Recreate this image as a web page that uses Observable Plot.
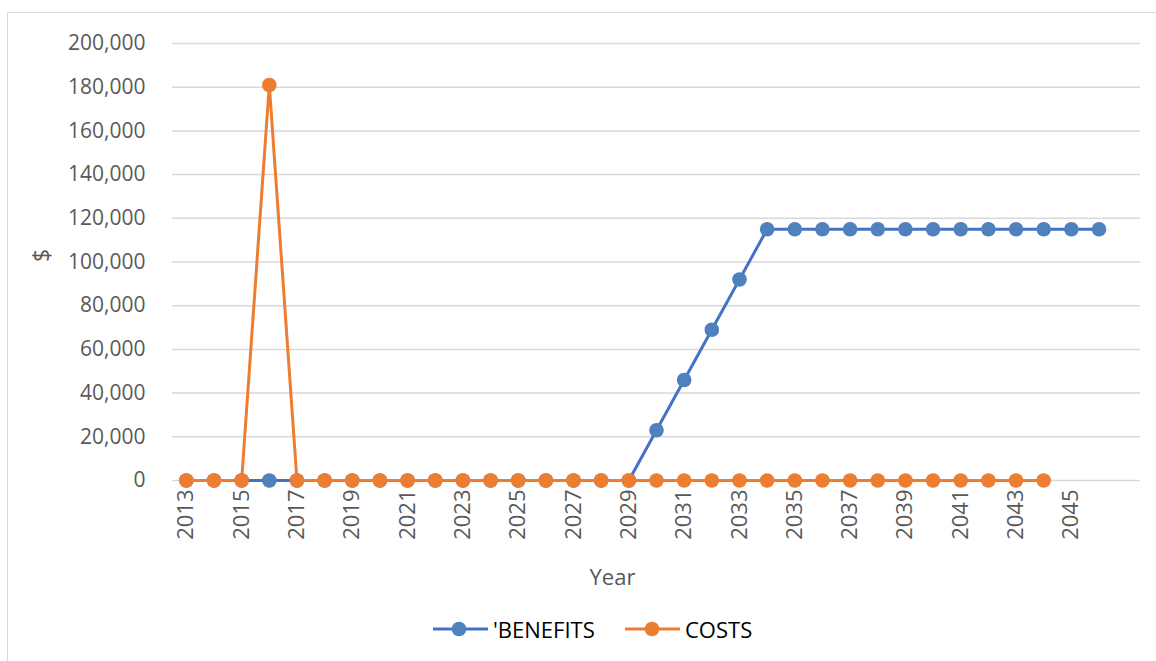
<!DOCTYPE html>
<html><head><meta charset="utf-8">
<script src="https://cdn.jsdelivr.net/npm/d3@7"></script>
<script src="https://cdn.jsdelivr.net/npm/@observablehq/plot@0.6"></script>
<style>
body{margin:0;background:#fff;}
#wrap{position:relative;width:1156px;height:661px;overflow:hidden;font-family:"Open Sans",sans-serif;background:#fff;}
#frame{position:absolute;left:7px;top:12px;width:1170px;height:670px;border-left:1.5px solid #d9d9d9;border-top:1.5px solid #d9d9d9;}
#chart{position:absolute;left:0;top:0;}
.leg{position:absolute;top:614px;height:30px;display:flex;align-items:center;font-size:22px;color:#000;white-space:nowrap;}
.leg svg{margin-right:5px;}
</style>
</head><body>
<div id="wrap"><div id="frame"></div><div id="chart"></div>
<div class="leg" style="left:433px"><svg width="55" height="18"><line x1="0" y1="9" x2="55" y2="9" stroke="#4472C4" stroke-width="3"/><circle cx="26" cy="9" r="7.3" fill="#4F81BD"/></svg><span>'BENEFITS</span></div>
<div class="leg" style="left:625px"><svg width="55" height="18"><line x1="0" y1="9" x2="55" y2="9" stroke="#ED7D31" stroke-width="3"/><circle cx="27" cy="9" r="7.3" fill="#ED7D31"/></svg><span>COSTS</span></div>
</div>
<script>
const years = [2013,2014,2015,2016,2017,2018,2019,2020,2021,2022,2023,2024,2025,2026,2027,2028,2029,2030,2031,2032,2033,2034,2035,2036,2037,2038,2039,2040,2041,2042,2043,2044,2045,2046,2047];
const tickYears = [2013,2015,2017,2019,2021,2023,2025,2027,2029,2031,2033,2035,2037,2039,2041,2043,2045];
const yTicks = [0,20000,40000,60000,80000,100000,120000,140000,160000,180000,200000];
const benefitYears = [2013,2014,2015,2016,2017,2018,2019,2020,2021,2022,2023,2024,2025,2026,2027,2028,2029,2030,2031,2032,2033,2034,2035,2036,2037,2038,2039,2040,2041,2042,2043,2044,2045,2046];
const benefits = [0,0,0,0,0,0,0,0,0,0,0,0,0,0,0,0,0,23000,46000,69000,92000,115000,115000,115000,115000,115000,115000,115000,115000,115000,115000,115000,115000,115000];
const costYears = [2013,2014,2015,2016,2017,2018,2019,2020,2021,2022,2023,2024,2025,2026,2027,2028,2029,2030,2031,2032,2033,2034,2035,2036,2037,2038,2039,2040,2041,2042,2043,2044];
const costs = [0,0,0,181000,0,0,0,0,0,0,0,0,0,0,0,0,0,0,0,0,0,0,0,0,0,0,0,0,0,0,0,0];

const bData = benefitYears.map((y,i)=>({year:y, value:benefits[i]}));
const cData = costYears.map((y,i)=>({year:y, value:costs[i]}));
const fmt = d3.format(",");

const chart = Plot.plot({
  width: 1156, height: 600,
  marginLeft: 172, marginRight: 16, marginTop: 43, marginBottom: 120,
  style: {fontFamily: "'Open Sans', sans-serif", fontSize: "21px", color: "#595959", background: "transparent"},
  x: {type: "point", domain: years, padding: 0.5, round: false},
  y: {domain: [0, 200000]},
  marks: [
    Plot.gridY(yTicks, {stroke: "#d9d9d9", strokeOpacity: 1, strokeWidth: 1.5}),
    Plot.axisY(yTicks, {tickSize: 0, tickPadding: 27, tickFormat: fmt, label: null, fill: "#595959", fontSize: 21}),
    Plot.axisX(tickYears, {tickSize: 0, tickPadding: 9, tickRotate: -90, tickFormat: d => String(d), label: null, fill: "#595959", fontSize: 22}),
    Plot.text(["$"], {frameAnchor: "left", dx: -130, rotate: -90, fontSize: 23, fill: "#595959"}),
    Plot.text(["Year"], {frameAnchor: "bottom", dy: 104, dx: -44, fontSize: 22, fill: "#595959"}),
    Plot.line(bData, {x: "year", y: "value", stroke: "#4472C4", strokeWidth: 3}),
    Plot.dot(bData, {x: "year", y: "value", r: 7.3, fill: "#4F81BD"}),
    Plot.line(cData, {x: "year", y: "value", stroke: "#ED7D31", strokeWidth: 3}),
    Plot.dot(cData, {x: "year", y: "value", r: 7.3, fill: "#ED7D31"})
  ]
});
document.getElementById("chart").appendChild(chart);
</script>
</body></html>
